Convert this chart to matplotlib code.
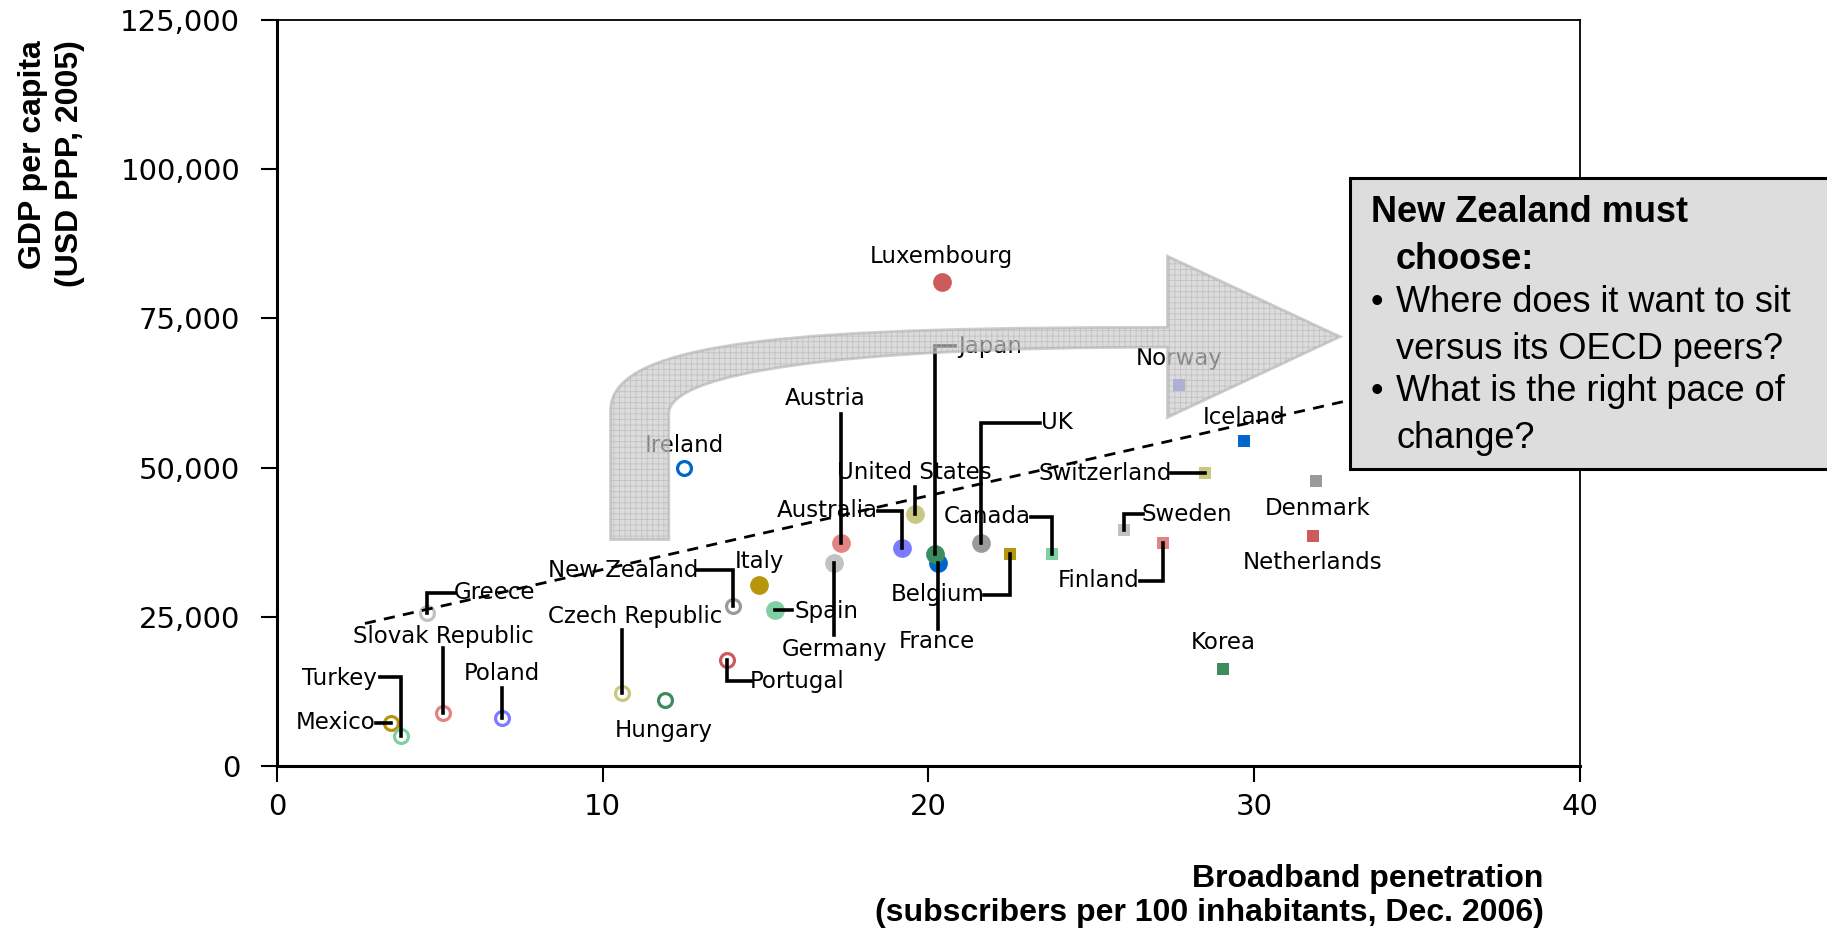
import matplotlib
matplotlib.use("Agg")
import matplotlib.pyplot as plt
from matplotlib.path import Path
from matplotlib.patches import PathPatch, Rectangle
from matplotlib.ticker import FuncFormatter

plt.rcParams['font.family'] = ['DejaVu Sans']
plt.rcParams['hatch.linewidth'] = 0.6

# data
countries = ["Mexico", "Turkey", "Greece", "Slovak Republic", "Poland", "Czech Republic",
             "Hungary", "Ireland", "Portugal", "New Zealand",
             "Italy", "Spain", "Germany", "Austria", "Australia", "United States",
             "Japan", "France", "Luxembourg", "UK",
             "Belgium", "Canada", "Sweden", "Finland", "Norway", "Switzerland",
             "Korea", "Iceland", "Netherlands", "Denmark"]
broadband = [3.5, 3.8, 4.6, 5.1, 6.9, 10.6, 11.9, 12.5, 13.8, 14.0,
             14.8, 15.3, 17.1, 17.3, 19.2, 19.6, 20.2, 20.3, 20.4, 21.6,
             22.5, 23.8, 26.0, 27.2, 27.7, 28.5, 29.05, 29.7, 31.8, 31.9]
gdp = [7300, 5000, 25700, 8900, 8100, 12200, 11000, 49900, 17700, 26800,
       30300, 26200, 34000, 37400, 36600, 42300, 35600, 34000, 81100, 37400,
       35600, 35600, 39500, 37400, 63900, 49100, 16300, 54400, 38500, 47700]
trend_x = [2.7, 33.0]
trend_y = [23900, 61400]

palette = ["#b8960c", "#7fd0a2", "#c2c2c2", "#e38484", "#7b7bff",
           "#c8c882", "#3c8c5e", "#0066cc", "#cc5c5c", "#9a9a9a"]

# label offsets in pixels (text centre, connector start)
label_off = {
    "Mexico": (-55, 0), "Turkey": (-61, 58), "Greece": (68, 20), "Slovak Republic": (0, 76),
    "Poland": (0, 44), "Czech Republic": (13, 77), "Hungary": (-1, -30), "Ireland": (0, 23),
    "Portugal": (71, -21), "New Zealand": (-110, 36), "Italy": (0, 24), "Spain": (51, -2),
    "Germany": (0, -86), "Austria": (-15, 144), "Australia": (-75, 37), "United States": (-1, 41),
    "Luxembourg": (0, 26), "Japan": (55, 207), "France": (-1, -78), "UK": (76, 120),
    "Belgium": (-72, -41), "Canada": (-65, 37), "Sweden": (63, 16), "Finland": (-64, -38),
    "Norway": (0, 26), "Switzerland": (-100, 0), "Korea": (0, 26), "Iceland": (0, 24),
    "Netherlands": (0, -26), "Denmark": (1, -27),
}
conn_off = {
    "Mexico": (-15, 0), "Turkey": (-21, 59), "Greece": (28, 20), "Slovak Republic": (0, 65),
    "Poland": (0, 30), "Czech Republic": (0, 63), "Portugal": (24, -21), "New Zealand": (-36, 36),
    "Spain": (17, 0), "Germany": (0, -72), "Austria": (0, 129), "Australia": (-24, 37),
    "United States": (0, 27), "Japan": (20, 208), "France": (0, -66), "UK": (59, 120),
    "Belgium": (-26, -41), "Canada": (-21, 37), "Sweden": (19, 16), "Finland": (-23, -38),
    "Switzerland": (-34, 0),
}
on_top = ["Japan"]

fig = plt.figure(figsize=(18.27, 9.32), dpi=100)
ax = fig.add_axes([0.1516, 0.178, 0.7132, 0.8005])
ax.set_xlim(0, 40)
ax.set_ylim(0, 125000)

for sp in ["left", "bottom"]:
    ax.spines[sp].set_linewidth(2.2)
for sp in ["top", "right"]:
    ax.spines[sp].set_linewidth(1.3)
ax.set_xticks([0, 10, 20, 30, 40])
ax.set_yticks([0, 25000, 50000, 75000, 100000, 125000])
ax.yaxis.set_major_formatter(FuncFormatter(lambda v, p: f"{int(v):,}"))
ax.tick_params(axis="both", direction="out", length=11.5, width=1.5, labelsize=21)
ax.tick_params(axis="y", pad=15)
ax.tick_params(axis="x", pad=8)

# trend line
ax.plot(trend_x, trend_y, color="black", lw=2, ls=(0, (4, 3)), zorder=5)

for i, name in enumerate(countries):
    x, y = broadband[i], gdp[i]
    c = palette[i % 10]
    z = 3.5 if name in on_top else 3
    if i < 10:
        ax.plot(x, y, "o", ms=10, mfc="white", mec=c, mew=2.3, zorder=z)
    elif i < 20:
        ax.plot(x, y, "o", ms=13.5, mfc=c, mec=c, mew=0, zorder=z)
    else:
        ax.plot(x, y, "s", ms=8, mfc=c, mec=c, mew=0, zorder=z)

    if name in conn_off:
        X, Y = ax.transData.transform((x, y))
        dx, dy = conn_off[name]
        inv = ax.transData.inverted()
        sx, sy = inv.transform((X + dx, Y + dy))
        cx, cy = inv.transform((X, Y + dy))
        ax.plot([sx, cx, x], [sy, cy, y], color="black", lw=2.6,
                solid_joinstyle="miter", zorder=4)

    ax.annotate(name, (x, y), xytext=label_off[name], textcoords="offset pixels",
                ha="center", va="center", fontsize=16.5, zorder=4)

# big curved arrow (axes fraction)
verts = [(0.256, 0.3037), (0.256, 0.477),
         (0.256, 0.574), (0.4134, 0.5881), (0.6834, 0.5881),
         (0.6834, 0.6834), (0.8158, 0.5756), (0.6834, 0.4674), (0.6834, 0.5615),
         (0.4313, 0.5615), (0.3007, 0.527), (0.3007, 0.4724),
         (0.3007, 0.3037), (0.256, 0.3037)]
codes = [Path.MOVETO, Path.LINETO,
         Path.CURVE4, Path.CURVE4, Path.CURVE4,
         Path.LINETO, Path.LINETO, Path.LINETO, Path.LINETO,
         Path.CURVE4, Path.CURVE4, Path.CURVE4,
         Path.LINETO, Path.CLOSEPOLY]
arrow = PathPatch(Path(verts, codes), transform=ax.transAxes, facecolor="#cacaca",
                  edgecolor="#b4b4b4", hatch="+++", lw=2, alpha=0.65, zorder=6)
ax.add_patch(arrow)

# axis titles
fig.text(0.028, 0.957, "GDP per capita\n(USD PPP, 2005)", rotation=90, ha="center",
         va="top", multialignment="right", fontsize=23, fontweight="bold",
         family=["Liberation Sans", "DejaVu Sans"], linespacing=1.3)
fig.text(0.845, 0.004, "Broadband penetration\n(subscribers per 100 inhabitants, Dec. 2006)",
         ha="right", va="bottom", multialignment="right", fontsize=23, fontweight="bold",
         family=["Liberation Sans", "DejaVu Sans"], linespacing=1.2)

# call-out box
fig.patches.append(Rectangle((0.7389, 0.4968), 0.3, 0.3117, transform=fig.transFigure,
                             facecolor="#dddddd", edgecolor="black", lw=2.2, zorder=10))
box_font = dict(fontsize=26, family=["Liberation Sans", "DejaVu Sans"], va="center", zorder=11)
fig.text(0.7502, 0.7725, "New Zealand must", fontweight="bold", **box_font)
fig.text(0.7641, 0.7221, "choose:", fontweight="bold", **box_font)
fig.text(0.7502, 0.6749, "•", **box_font)
fig.text(0.7641, 0.6749, "Where does it want to sit", **box_font)
fig.text(0.7641, 0.6245, "versus its OECD peers?", **box_font)
fig.text(0.7502, 0.5794, "•", **box_font)
fig.text(0.7641, 0.5794, "What is the right pace of", **box_font)
fig.text(0.7641, 0.5290, "change?", **box_font)

fig.savefig("out.png", dpi=100)
